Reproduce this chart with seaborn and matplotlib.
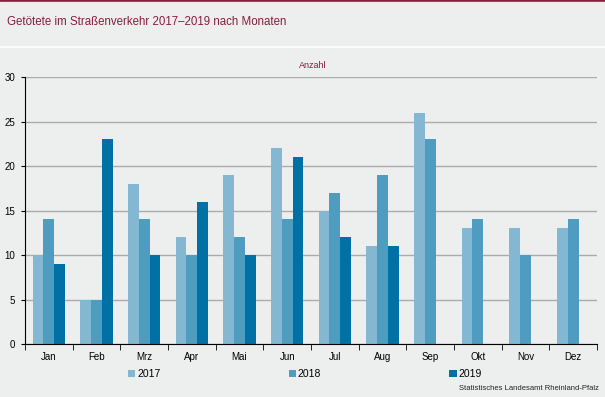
import numpy as np
import pandas as pd
import seaborn as sns
import matplotlib.pyplot as plt
from matplotlib.patches import Rectangle, Patch

# Werte
monate = ["Jan", "Feb", "Mrz", "Apr", "Mai", "Jun", "Jul", "Aug", "Sep", "Okt", "Nov", "Dez"]
jahre = ["2017", "2018", "2019"]
werte_2017 = [10, 5, 18, 12, 19, 22, 15, 11, 26, 13, 13, 13]
werte_2018 = [14, 5, 14, 10, 12, 14, 17, 19, 23, 14, 10, 14]
werte_2019 = [9, 23, 10, 16, 10, 21, 12, 11, np.nan, np.nan, np.nan, np.nan]
farben = ["#84B8D2", "#4E9CC0", "#0071A4"]

df = pd.DataFrame({
    "Monat": monate * 3,
    "Jahr": [j for j in jahre for _ in monate],
    "Anzahl": werte_2017 + werte_2018 + werte_2019,
})

bg = "#EDEFEE"
rot = "#8B1C3C"
plt.rcParams["font.family"] = ["Liberation Sans", "DejaVu Sans"]

fig = plt.figure(figsize=(6.05, 3.97), dpi=100, facecolor="white")
# Hintergrundflächen (hinter den Achsen)
for rect, col in [((0, 1 - 2.5 / 397, 1, 2.5 / 397), rot),
                  ((0, 1 - 45 / 397, 1, 42.5 / 397), bg),
                  ((0, 0, 1, 1 - 48 / 397), bg)]:
    fig.patches.append(Rectangle(rect[:2], rect[2], rect[3], transform=fig.transFigure,
                                 color=col, zorder=-5))

fig.text(7 / 605, 1 - 22 / 397, "Getötete im Straßenverkehr 2017–2019 nach Monaten",
         color=rot, fontsize=8.3, va="center", ha="left")

ax = fig.add_axes([25 / 605, 1 - 344 / 397, 572 / 605, 267 / 397])
ax.set_facecolor(bg)

sns.barplot(data=df, x="Monat", y="Anzahl", hue="Jahr", palette=farben,
            width=0.68, ax=ax, legend=False, saturation=1)

ax.set_ylim(0, 30)
ax.set_yticks(range(0, 31, 5))
ax.set_xlim(-0.5, 11.5)
ax.yaxis.grid(True, color="#ABABAB", linewidth=1)
ax.set_axisbelow(True)
ax.set_xlabel("")
ax.set_ylabel("")
for s in ["top", "right"]:
    ax.spines[s].set_visible(False)
ax.spines["left"].set_color("black")
ax.spines["bottom"].set_color("black")
ax.tick_params(axis="x", which="major", length=0, labelsize=7, pad=6)
ax.set_xticks(np.arange(-0.5, 12, 1), minor=True)
ax.tick_params(axis="x", which="minor", length=4, direction="out", color="black")
ax.tick_params(axis="y", length=3, labelsize=7, pad=4)

fig.text(313 / 605, 1 - 66 / 397, "Anzahl", color=rot, fontsize=6.5, ha="center", va="center")

handles = [Patch(facecolor=c, edgecolor="none") for c in farben]
fig.legend(handles, jahre, loc="center", bbox_to_anchor=(305 / 605, 1 - 374 / 397),
           ncol=3, frameon=False, fontsize=7.5, handlelength=0.7, handleheight=0.7,
           handletextpad=0.2, columnspacing=12.3)

fig.text(599 / 605, 1 - 389 / 397, "Statistisches Landesamt Rheinland-Pfalz",
         fontsize=5.5, ha="right", va="center", color="#222222")

fig.savefig("out.png", dpi=100, facecolor="white")
